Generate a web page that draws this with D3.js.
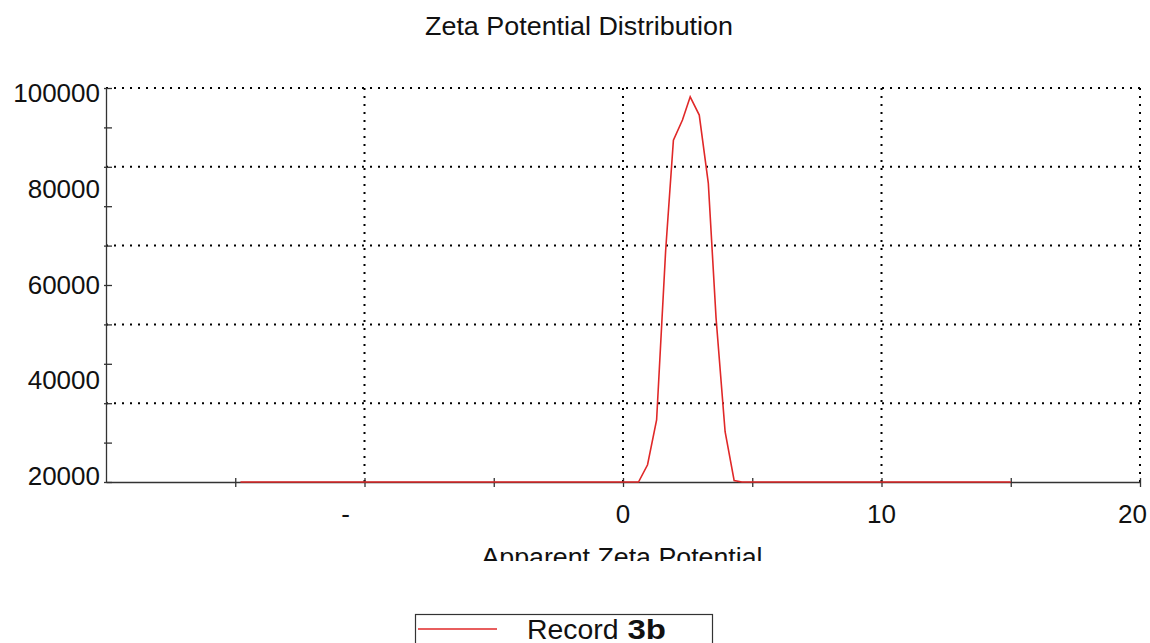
<!DOCTYPE html>
<html>
<head>
<meta charset="utf-8">
<script src="https://cdn.jsdelivr.net/npm/d3@7"></script>
<style>
	body { margin: 0; background: #fff; }
	svg { display: block; font-family: "Liberation Sans", Arial, sans-serif; }
	.grid { stroke: #000; stroke-width: 2; stroke-dasharray: 2,6; fill: none; }
	.axis path, .axis line { stroke: #333; stroke-width: 1.3; }
	.label { font-size: 26px; fill: #111; }
</style>
</head>
<body>
<svg id="vis" width="1150" height="643"></svg>
<script>
// series: apparent zeta potential (mV) vs counts
var potential = [-14.8, 0.6, 0.95, 1.3, 1.65, 1.95, 2.3, 2.6, 2.95, 3.3, 3.6, 3.95, 4.3, 4.6, 15.0];
var counts    = [20000, 20000, 23500, 32600, 67000, 89400, 93500, 98200, 94500, 80700, 53300, 30200, 20300, 20000, 20000];

var xTicks = [-15, -10, -5, 0, 5, 10, 15, 20];
var xLabelValues = [-10, 0, 10, 20];
var xLabels = ["-", "0", "10", "20"];
var xGrid = [-10, 0, 10, 20];

var yTicks = [20000, 28000, 36000, 44000, 52000, 60000, 68000, 76000, 84000, 92000, 100000];
var yLabelValues = [20000, 40000, 60000, 80000, 100000];
var yGrid = [36000, 52000, 68000, 84000, 100000];

var svg = d3.select("#vis");
var width = 1150;

var x = d3.scaleLinear().domain([-20, 20]).range([106, 1140]);
var y = d3.scaleLinear().domain([20000, 100000]).range([482, 88]);
// tick labels sit a little inside the axis ends
var yLab = y.copy().range([476, 93]);

// title (the original is slightly stretched sideways)
svg.append("text")
   .attr("x", 579)
   .attr("y", 35)
   .attr("text-anchor", "middle")
   .attr("class", "label")
   .attr("textLength", 308)
   .attr("lengthAdjust", "spacingAndGlyphs")
   .text("Zeta Potential Distribution");

// dotted grid
svg.selectAll(".hgrid")
   .data(yGrid)
   .enter()
   .append("line")
   .attr("class", "grid")
   .attr("x1", x(-20))
   .attr("x2", x(20))
   .attr("y1", d => y(d))
   .attr("y2", d => y(d));

svg.selectAll(".vgrid")
   .data(xGrid)
   .enter()
   .append("line")
   .attr("class", "grid")
   .attr("y1", y(100000))
   .attr("y2", y(20000))
   .attr("x1", d => x(d))
   .attr("x2", d => x(d));

// x-axis
var xAxis = svg.append("g")
               .attr("class", "axis")
               .attr("transform", "translate(0," + y(20000) + ")")
               .call(d3.axisBottom(x).tickValues(xTicks).tickSizeOuter(0).tickFormat(""));
xAxis.selectAll(".tick line").attr("y1", -4).attr("y2", 5);

// y-axis
var yAxis = svg.append("g")
               .attr("class", "axis")
               .attr("transform", "translate(" + x(-20) + ",0)")
               .call(d3.axisLeft(y).tickValues(yTicks).tickSizeOuter(0).tickFormat(""));
yAxis.selectAll(".tick line").attr("x1", -2).attr("x2", 6);

// data line
var line = d3.line()
             .x(d => x(d[0]))
             .y(d => y(d[1]));

svg.append("path")
   .datum(d3.zip(potential, counts))
   .attr("d", line)
   .attr("fill", "none")
   .attr("stroke", "#e02828")
   .attr("stroke-width", 1.6);

// y labels
svg.selectAll(".ylab")
   .data(yLabelValues)
   .enter()
   .append("text")
   .attr("class", "label")
   .attr("x", 100)
   .attr("y", d => yLab(d))
   .attr("dy", "0.35em")
   .attr("text-anchor", "end")
   .text(d => d);

// x labels
svg.selectAll(".xlab")
   .data(xLabelValues)
   .enter()
   .append("text")
   .attr("class", "label")
   .attr("y", 523)
   .attr("text-anchor", "middle")
   .text((d, i) => xLabels[i])
   .attr("x", function(d, i) {
       var w = this.getComputedTextLength();
       var cx = x(d) + (xLabels[i] === "-" ? -19 : 0);
       return Math.min(cx, width - 3 - w / 2);
   });

// axis title, cut off at the bottom like the original
svg.append("clipPath")
   .attr("id", "titleClip")
   .append("rect")
   .attr("x", 0)
   .attr("y", 530)
   .attr("width", width)
   .attr("height", 31);

svg.append("text")
   .attr("class", "label")
   .attr("clip-path", "url(#titleClip)")
   .attr("x", 622)
   .attr("y", 566)
   .attr("text-anchor", "middle")
   .attr("textLength", 281)
   .attr("lengthAdjust", "spacingAndGlyphs")
   .text("Apparent Zeta Potential");

// legend
var legend = svg.append("g");
legend.append("rect")
      .attr("x", 415.5)
      .attr("y", 614.5)
      .attr("width", 297)
      .attr("height", 40)
      .attr("fill", "#fff")
      .attr("stroke", "#333")
      .attr("stroke-width", 1.2);
legend.append("line")
      .attr("x1", 418)
      .attr("x2", 497)
      .attr("y1", 629)
      .attr("y2", 629)
      .attr("stroke", "#e02828")
      .attr("stroke-width", 1.6);
legend.append("text")
      .attr("class", "label")
      .style("font-size", "27px")
      .attr("x", 527)
      .attr("y", 638.5)
      .attr("textLength", 91.5)
      .attr("lengthAdjust", "spacingAndGlyphs")
      .text("Record");
legend.append("text")
      .attr("class", "label")
      .style("font-size", "27px")
      .attr("font-weight", "bold")
      .attr("x", 627.5)
      .attr("y", 638.5)
      .attr("textLength", 38.5)
      .attr("lengthAdjust", "spacingAndGlyphs")
      .text("3b");
</script>
</body>
</html>
